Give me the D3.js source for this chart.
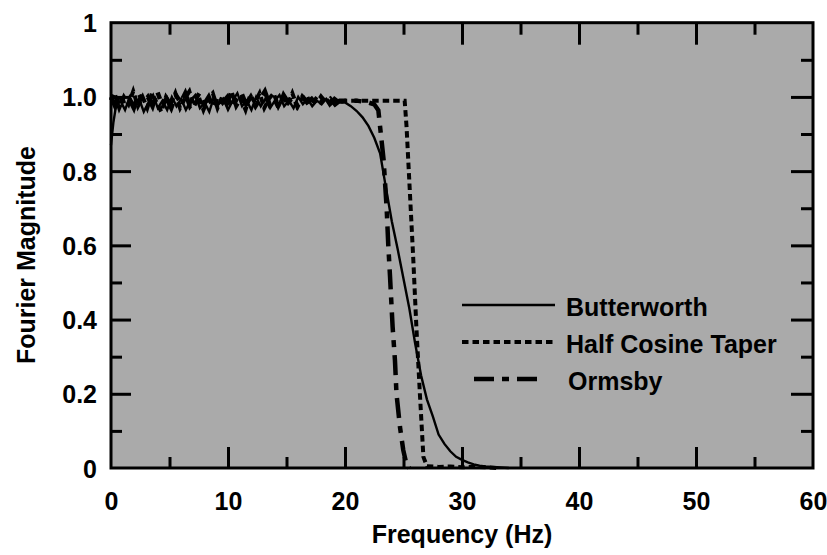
<!DOCTYPE html>
<html>
<head>
<meta charset="utf-8">
<script src="https://cdn.jsdelivr.net/npm/d3@7"></script>
<style>
  body { margin: 0; background: #fff; }
  text { font-family: "Liberation Sans", Arial, sans-serif; font-weight: bold; fill: #000; }
</style>
</head>
<body>
<svg width="827" height="555"></svg>
<script>
// tick labels
var xTickValues = [0, 10, 20, 30, 40, 50, 60];
var xTickLabels = ["0", "10", "20", "30", "40", "50", "60"];
var yTickValues = [0, 0.2, 0.4, 0.6, 0.8, 1.0, 1.2];
var yTickLabels = ["0", "0.2", "0.4", "0.6", "0.8", "1.0", "1"];
var xMinorTicks = [5, 15, 25, 35, 45, 55];
var yMinorTicks = [0.1, 0.3, 0.5, 0.7, 0.9, 1.1];

var seriesNames = ["Butterworth", "Half Cosine Taper", "Ormsby"];

// [frequency, magnitude]
var butterworth = [
  [0,0.87],[0.2,0.93],[0.4,0.97],[0.8,0.99],[1.2,0.965],[1.6,1.0],[2.0,0.975],[2.4,0.995],
  [2.8,0.96],[3.2,0.985],[3.6,1.005],[4.0,0.97],[4.4,0.99],[4.8,0.965],[5.2,1.0],[5.6,0.975],
  [6.0,0.995],[6.4,0.965],[6.8,0.99],[7.2,1.005],[7.6,0.97],[8.0,0.985],[8.4,0.96],[8.8,1.0],
  [9.2,0.98],[9.6,0.995],[10.0,0.965],[10.4,0.99],[10.8,1.01],[11.2,0.975],[11.6,0.99],[12.0,0.965],
  [12.4,1.0],[12.8,0.975],[13.2,0.995],[13.6,0.97],[14.0,0.99],[14.4,1.005],[14.8,0.975],[15.2,0.99],
  [15.6,0.97],[16.0,1.0],[16.4,0.98],[16.8,0.995],[17.2,0.975],[17.6,0.99],[18.0,0.98],[18.4,0.995],
  [18.8,0.98],[19.2,0.99],[19.6,0.985],[20.0,0.985],[20.5,0.975],[21,0.962],[21.5,0.945],[22,0.922],
  [22.5,0.89],[23,0.848],[23.5,0.755],[24,0.665],[24.5,0.59],[25,0.51],[25.5,0.43],[26,0.335],
  [26.5,0.25],[27,0.185],[27.5,0.14],[28,0.09],[28.5,0.065],[29,0.045],[29.5,0.03],[30,0.022],
  [30.5,0.015],[31,0.01],[31.5,0.006],[32,0.004],[32.5,0.003],[33,0.002],[34,0]
];

var halfCosine = [
  [0,0.99],[0.3,1.01],[0.7,0.97],[1.1,1.0],[1.5,0.98],[1.9,1.015],[2.3,0.975],[2.7,1.0],
  [3.1,0.97],[3.5,1.01],[3.9,0.985],[4.3,0.96],[4.7,1.0],[5.1,0.98],[5.5,1.01],[5.9,0.97],
  [6.3,0.995],[6.7,1.015],[7.1,0.975],[7.5,1.0],[7.9,0.965],[8.3,0.995],[8.7,1.01],[9.1,0.97],
  [9.5,1.0],[9.9,0.98],[10.3,1.015],[10.7,0.975],[11.1,0.995],[11.5,0.965],[11.9,1.005],[12.3,0.985],
  [12.7,1.01],[13.1,0.97],[13.5,0.995],[13.9,1.01],[14.3,0.975],[14.7,1.0],[15.1,0.98],[15.5,1.01],
  [15.9,0.975],[16.3,0.995],[16.7,1.005],[17.1,0.98],[17.5,0.995],[17.9,0.985],[18.3,1.0],[18.7,0.98],
  [19.1,0.995],[19.5,0.985],[20,0.99],[21,0.99],[22,0.99],[23,0.99],[24,0.99],[25.1,0.99],
  [25.26,0.92],[25.55,0.74],[25.84,0.56],[26.1,0.38],[26.4,0.2],[26.7,0.03],[27,0.005],[28,0.003],
  [29,0.004],[30,0.002],[31,0.003],[32,0.002],[33,0]
];

var ormsby = [
  [0,1.0],[0.35,0.975],[0.75,1.01],[1.15,0.98],[1.55,0.995],[1.95,0.97],[2.35,1.01],[2.75,0.985],
  [3.15,1.0],[3.55,0.975],[3.95,1.015],[4.35,0.98],[4.75,0.995],[5.15,0.97],[5.55,1.005],[5.95,0.985],
  [6.35,1.01],[6.75,0.975],[7.15,0.99],[7.55,1.01],[7.95,0.98],[8.35,1.0],[8.75,0.97],[9.15,1.005],
  [9.55,0.985],[9.95,1.0],[10.35,0.97],[10.75,0.995],[11.15,1.01],[11.55,0.98],[11.95,1.0],[12.35,0.975],
  [12.75,0.995],[13.15,1.015],[13.55,0.98],[13.95,0.995],[14.35,0.97],[14.75,1.005],[15.15,0.985],[15.55,1.0],
  [15.95,0.975],[16.35,1.0],[16.75,0.985],[17.15,0.995],[17.55,0.98],[17.95,1.0],[18.35,0.985],[18.75,0.995],
  [19.15,0.98],[19.55,0.99],[20,0.99],[21,0.99],[22,0.985],[22.5,0.98],[22.85,0.964],[23.3,0.83],
  [23.56,0.70],[23.7,0.6],[23.85,0.515],[24.07,0.38],[24.27,0.29],[24.4,0.2],[24.7,0.11],[24.98,0.048],
  [25.27,0.008],[25.5,0]
];

// plot box
var plotLeft = 111, plotRight = 813, plotTop = 22.7, plotBottom = 468;
var width = plotRight - plotLeft, height = plotBottom - plotTop;
var fontSize = 25;

var svg = d3.select("svg");

var xScale = d3.scaleLinear().domain([0, 60]).range([0, width]);
var yScale = d3.scaleLinear().domain([0, 1.2]).range([height, 0]);

var g = svg.append("g")
    .attr("transform", "translate(" + plotLeft + "," + plotTop + ")");

// gray plot background
g.append("rect")
    .attr("width", width)
    .attr("height", height)
    .attr("fill", "#aaaaaa");

// series lines
var line = d3.line()
    .x(function(d) { return xScale(d[0]); })
    .y(function(d) { return yScale(d[1]); });

var styles = [
  { width: 2.4, dash: null },
  { width: 4, dash: "6.5,4" },
  { width: 4.5, dash: "20,8,7,8" }
];
var seriesData = [butterworth, halfCosine, ormsby];

g.selectAll(".series")
    .data(seriesData)
    .enter().append("path")
    .attr("class", "series")
    .attr("d", line)
    .attr("fill", "none")
    .attr("stroke", "#000")
    .attr("stroke-width", function(d, i) { return styles[i].width; })
    .attr("stroke-dasharray", function(d, i) { return styles[i].dash; });

// inside ticks on all four sides
function tickAxis(axisFn, scale, values, size, transform) {
  var a = g.append("g")
      .attr("transform", transform || null)
      .call(axisFn(scale).tickValues(values).tickSize(size).tickFormat(""));
  a.select(".domain").remove();
  a.selectAll("line").attr("stroke", "#000").attr("stroke-width", 3);
}
var xMajorInner = xTickValues.slice(1, -1);
var yMajorInner = yTickValues.slice(1, -1);
tickAxis(d3.axisBottom, xScale, xMajorInner, -21, "translate(0," + height + ")");
tickAxis(d3.axisBottom, xScale, xMinorTicks, -11, "translate(0," + height + ")");
tickAxis(d3.axisTop, xScale, xMajorInner, -22);
tickAxis(d3.axisTop, xScale, xMinorTicks, -12);
tickAxis(d3.axisLeft, yScale, yMajorInner, -20);
tickAxis(d3.axisLeft, yScale, yMinorTicks, -11);
tickAxis(d3.axisRight, yScale, yMajorInner, -22, "translate(" + width + ",0)");
tickAxis(d3.axisRight, yScale, yMinorTicks, -12, "translate(" + width + ",0)");

// frame
g.append("rect")
    .attr("width", width)
    .attr("height", height)
    .attr("fill", "none")
    .attr("stroke", "#000")
    .attr("stroke-width", 3);

// tick labels
var xLab = g.append("g")
    .attr("transform", "translate(0," + height + ")")
    .call(d3.axisBottom(xScale).tickValues(xTickValues).tickSize(0)
      .tickFormat(function(d, i) { return xTickLabels[i]; }));
xLab.select(".domain").remove();
xLab.selectAll("text")
    .attr("y", 42).attr("dy", null)
    .attr("font-size", fontSize)
    .attr("font-family", "Liberation Sans, Arial, sans-serif")
    .attr("font-weight", "bold")
    .attr("fill", "#000");

var yLab = g.append("g")
    .call(d3.axisLeft(yScale).tickValues(yTickValues).tickSize(0)
      .tickFormat(function(d, i) { return yTickLabels[i]; }));
yLab.select(".domain").remove();
yLab.selectAll("text")
    .attr("x", -14).attr("dy", "0.36em")
    .attr("font-size", fontSize)
    .attr("font-family", "Liberation Sans, Arial, sans-serif")
    .attr("font-weight", "bold")
    .attr("fill", "#000");

// axis titles
svg.append("text")
    .attr("x", plotLeft + width / 2)
    .attr("y", 543)
    .attr("text-anchor", "middle")
    .attr("font-size", fontSize)
    .text("Frequency (Hz)");

svg.append("text")
    .attr("transform", "translate(35,255) rotate(-90)")
    .attr("text-anchor", "middle")
    .attr("font-size", fontSize)
    .text("Fourier Magnitude");

// legend
var legendY = [305, 342, 379];
var legendLineX = [[462, 555], [462, 555], [466, 542]];
var legend = svg.selectAll(".legend")
    .data(seriesNames)
    .enter().append("g")
    .attr("class", "legend");

legend.append("line")
    .attr("x1", function(d, i) { return legendLineX[i][0]; })
    .attr("x2", function(d, i) { return legendLineX[i][1]; })
    .attr("y1", function(d, i) { return legendY[i]; })
    .attr("y2", function(d, i) { return legendY[i]; })
    .attr("stroke", "#000")
    .attr("stroke-width", function(d, i) { return styles[i].width; })
    .attr("stroke-dasharray", function(d, i) { return styles[i].dash; })
    .attr("stroke-dashoffset", function(d, i) { return i === 2 ? 35 : 0; });

legend.append("text")
    .attr("x", function(d, i) { return i === 2 ? 568 : 566; })
    .attr("y", function(d, i) { return legendY[i] + 11; })
    .attr("font-size", fontSize)
    .text(function(d) { return d; });
</script>
</body>
</html>
